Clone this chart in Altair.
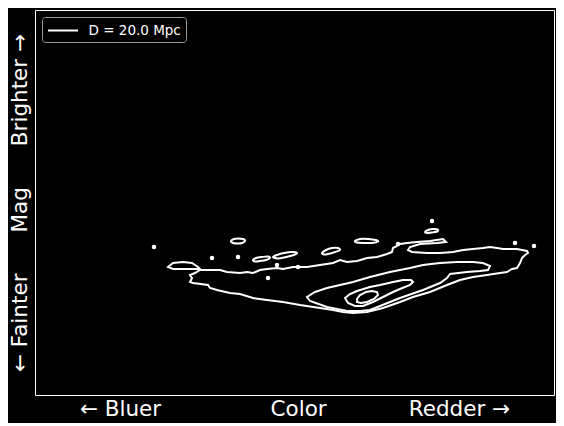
import altair as alt
import pandas as pd

# ---- data (arbitrary colour / brightness units) ----
LEGEND_LABEL = "D = 20.0 Mpc"

outer_x = [165, 185, 192, 205, 212, 218, 225, 232, 242, 248, 258, 272, 285, 298, 305, 312, 322, 332, 342, 352,
           357, 358, 362, 365, 372, 382, 395, 408, 411, 402, 385, 375, 373, 377, 392, 405, 418, 428, 438, 448,
           455, 462, 468, 482, 492, 493, 490, 487, 485, 482, 477, 472, 465, 452, 438, 425, 412, 395, 378, 365,
           348, 332, 318, 308, 298, 285, 265, 248, 232, 218, 205, 195, 182, 175, 173, 158, 155, 157, 155, 160]
outer_y = [125, 125, 123, 122, 123, 122, 125, 126, 127, 126, 128, 128, 130, 132, 135, 133, 134, 137, 138, 141,
           143, 147, 149, 151, 152, 153, 154, 156, 153, 152, 151, 148, 145, 143, 142, 142, 143, 145, 146, 147,
           148, 147, 146, 146, 144, 142, 140, 137, 132, 127, 126, 123, 122, 120, 118, 115, 110, 103, 98, 93,
           87, 83, 82, 83, 85, 87, 90, 93, 95, 97, 101, 102, 105, 107, 110, 112, 113, 117, 120, 122]

mid_x = [272, 280, 292, 318, 335, 355, 375, 388, 405, 422, 438, 448, 455, 453, 445, 432, 415, 412, 405, 388,
         365, 345, 335, 325, 312, 292, 275]
mid_y = [98, 103, 107, 113, 118, 123, 127, 130, 132, 133, 133, 132, 129, 125, 124, 123, 121, 117, 112, 105,
         97, 89, 85, 84, 84, 88, 94]

inner_x = [310, 315, 322, 335, 345, 358, 368, 376, 378, 375, 365, 358, 348, 338, 328, 320, 313]
inner_y = [97, 101, 104, 108, 110, 113, 115, 115, 113, 110, 106, 103, 98, 93, 89, 89, 92]

core_x = [322, 325, 331, 337, 342, 343, 339, 332, 326, 322]
core_y = [96, 100, 103, 104, 103, 100, 96, 93, 92, 93]

blob_x = [133, 138, 148, 157, 163, 165, 155, 138]
blob_y = [128, 132, 133, 132, 128, 126, 126, 126]

# small islands
isl1_x = [196, 199, 203, 208, 210, 207, 203, 198]
isl1_y = [154, 156, 156.5, 156, 154, 152, 151.5, 152]
isl2_x = [218, 221, 227, 233, 235, 231, 225, 220]
isl2_y = [135, 137, 138, 138.5, 137, 135, 134, 133.5]
isl3_x = [238, 242, 249, 257, 262, 259, 251, 243]
isl3_y = [138, 140, 142, 143, 142, 140, 138, 136.5]
isl4_x = [287, 291, 297, 303, 305, 300, 293, 289]
isl4_y = [142, 145, 147, 147, 145, 143, 141, 140.5]
isl5_x = [320, 325, 333, 341, 343, 337, 328, 322]
isl5_y = [154, 156, 156, 155, 153.5, 152, 152, 152.5]
isl6_x = [390, 393, 398, 403, 402, 397, 392]
isl6_y = [163, 165, 166, 165.5, 163.5, 162.5, 162]

dot_x = [119, 177, 203, 233, 242, 263, 363, 397, 480, 499]
dot_y = [148, 137, 138, 117, 130, 128, 151, 174, 152, 149]

X_DOMAIN = [0, 519]
Y_DOMAIN = [0, 385]


def table(groups):
    rows = []
    for gid, (xs, ys) in groups.items():
        for i, (x, y) in enumerate(zip(xs, ys)):
            rows.append({"cid": gid, "i": i, "color": x, "mag": y, "label": LEGEND_LABEL})
    return pd.DataFrame(rows)


main_df = table({"outer": (outer_x, outer_y), "mid": (mid_x, mid_y), "inner": (inner_x, inner_y),
                 "core": (core_x, core_y), "blob": (blob_x, blob_y)})
isl_df = table({"i1": (isl1_x, isl1_y), "i2": (isl2_x, isl2_y), "i3": (isl3_x, isl3_y),
                "i4": (isl4_x, isl4_y), "i5": (isl5_x, isl5_y), "i6": (isl6_x, isl6_y)})
dot_df = pd.DataFrame({"color": dot_x, "mag": dot_y})

NB = "\u00a0"
x_title = "←" + NB + "Bluer" + NB * 16 + "Color" + NB * 12 + "Redder" + NB + "→"
y_title = "←" + NB + "Fainter" + NB * 6 + "Mag" + NB * 6 + "Brighter" + NB + "→"

xs = alt.Scale(domain=X_DOMAIN, nice=False, zero=False)
ys = alt.Scale(domain=Y_DOMAIN, nice=False, zero=False)

x_enc = alt.X("color:Q", scale=xs,
              axis=alt.Axis(title=x_title, labels=False, ticks=False, domain=False, grid=False,
                            titleY=20.5, titleBaseline="alphabetic"))
y_enc = alt.Y("mag:Q", scale=ys,
              axis=alt.Axis(title=y_title, labels=False, ticks=False, domain=False, grid=False,
                            titleX=-9, titleBaseline="alphabetic"))

main = alt.Chart(main_df).mark_line(interpolate="linear-closed", strokeWidth=2).encode(
    x=x_enc, y=y_enc, detail="cid:N", order="i:Q",
    color=alt.Color("label:N", scale=alt.Scale(range=["white"]),
                    legend=alt.Legend(title=None, orient="none", legendX=7, legendY=7,
                                      symbolType="M-2,0L2,0", symbolSize=225, symbolStrokeWidth=2,
                                      symbolStrokeColor="white", symbolFillColor="transparent",
                                      symbolOffset=7.5,
                                      labelFontSize=13.5, labelColor="white", labelFont="DejaVu Sans",
                                      labelOffset=17, padding=5, strokeColor="#9a9a9a",
                                      fillColor="black", cornerRadius=3))
)

islands = alt.Chart(isl_df).mark_line(interpolate="cardinal-closed", strokeWidth=2, color="white").encode(
    x="color:Q", y="mag:Q", detail="cid:N", order="i:Q"
)

dots = alt.Chart(dot_df).mark_point(filled=True, size=20, color="white", opacity=1).encode(
    x="color:Q", y="mag:Q"
)

chart = alt.layer(main, islands, dots).properties(
    width=519, height=385,
    autosize=alt.AutoSizeParams(type="none"),
    padding={"left": 27, "top": 2, "right": 2, "bottom": 28},
    background="black",
).configure_view(
    stroke="white", strokeWidth=1, fill="black"
).configure_axis(
    titleFont="DejaVu Sans", titleFontSize=21.5, titleFontWeight="normal", titleColor="white"
)

chart.save("out.html", embed_options={"renderer": "svg", "actions": False})
